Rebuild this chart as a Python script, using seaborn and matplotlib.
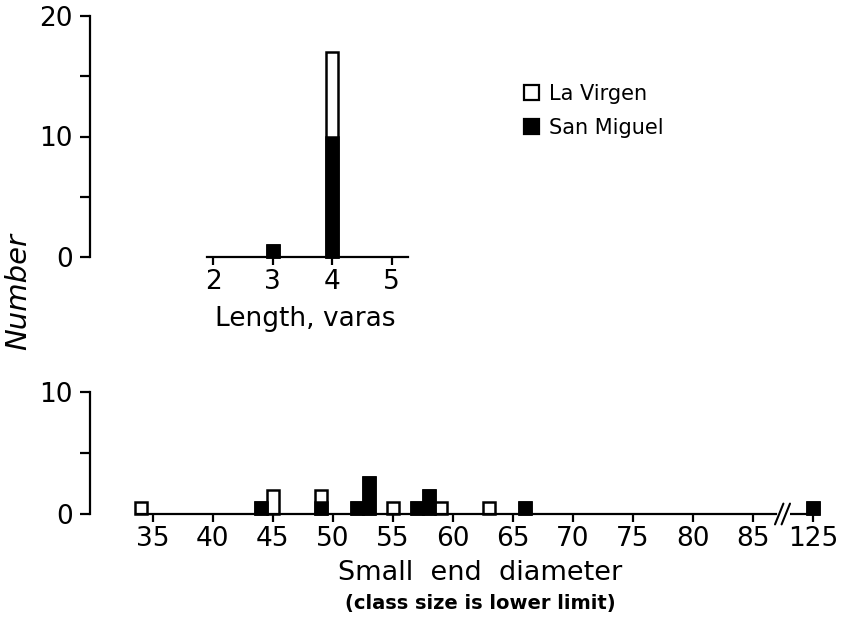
import matplotlib
matplotlib.use("Agg")
import matplotlib.pyplot as plt
import seaborn as sns
import numpy as np
import pandas as pd
from matplotlib.patches import Patch
from matplotlib.ticker import FixedLocator

# ---------------- data ----------------
length_classes = [3, 4]
length_san_miguel = [1, 10]
length_la_virgen = [0, 7]
length_ticks = [2, 3, 4, 5]

diam_classes = [34, 44, 45, 49, 52, 53, 55, 57, 58, 59, 63, 66, 125]
diam_san_miguel = [0, 1, 0, 1, 1, 3, 0, 1, 2, 0, 0, 1, 1]
diam_la_virgen = [1, 0, 2, 1, 0, 0, 1, 0, 0, 1, 1, 0, 0]
diam_ticks = [35, 40, 45, 50, 55, 60, 65, 70, 75, 80, 85, 125]

series_names = ["La Virgen", "San Miguel"]


def axis_pos(v):
    # broken axis: values beyond 85 are drawn one class step after 85
    return v - 35 if v > 85 else v


# ---------------- style ----------------
sns.set_style("white")
plt.rcParams["font.family"] = ["DejaVu Sans"]
plt.rcParams.update({
    "axes.linewidth": 1.6,
    "axes.edgecolor": "black",
    "text.color": "black",
    "axes.labelcolor": "black",
    "xtick.color": "black",
    "ytick.color": "black",
})

W, H, DPI = 853, 620, 100
fig = plt.figure(figsize=(W / DPI, H / DPI), dpi=DPI)


def px_axes(left, top, right, bottom):
    return fig.add_axes([left / W, 1 - bottom / H, (right - left) / W, (bottom - top) / H])


ax_top = px_axes(206.7, 15.7, 408.3, 257.3)
ax_bot = px_axes(136, 391.7, 820, 514)


def stacked(ax, x, sm, lv, width):
    df = pd.DataFrame({"x": x, "sm": sm, "lv": lv})
    df["total"] = df["sm"] + df["lv"]
    tot = df[df["total"] > 0]
    sns.barplot(data=tot, x="x", y="total", native_scale=True, width=width,
                color="white", edgecolor="black", linewidth=1.8, saturation=1,
                errorbar=None, ax=ax)
    blk = df[df["sm"] > 0]
    sns.barplot(data=blk, x="x", y="sm", native_scale=True, width=width,
                color="black", edgecolor="black", linewidth=1.8, saturation=1,
                errorbar=None, ax=ax)
    for p in ax.patches:
        p.set_clip_on(False)


# ---------------- top panel: length ----------------
stacked(ax_top, length_classes, length_san_miguel, length_la_virgen, 0.2)
ax_top.set_xlim(1.89, 5.28)
ax_top.set_ylim(0, 20)
for s in ["top", "right"]:
    ax_top.spines[s].set_visible(False)
ax_top.spines["left"].set_position(("outward", (206.7 - 90) * 72 / DPI))
ax_top.set_xticks(length_ticks)
ax_top.set_xticklabels([str(t) for t in length_ticks])
ax_top.set_yticks([0, 10, 20])
ax_top.set_yticklabels(["0", "10", "20"])
ax_top.yaxis.set_minor_locator(FixedLocator([5, 15]))
ax_top.set_xlabel("Length, varas", fontsize=19)
ax_top.xaxis.set_label_coords((305 - 206.7) / 201.7, (257.3 - 306) / 241.6)
ax_top.set_ylabel("")

# ---------------- bottom panel: diameter ----------------
pos_classes = [axis_pos(v) for v in diam_classes]
stacked(ax_bot, pos_classes, diam_san_miguel, diam_la_virgen, 0.95)
ax_bot.set_xlim(33.6, 90.6)
ax_bot.set_ylim(0, 10)
for s in ["top", "right"]:
    ax_bot.spines[s].set_visible(False)
ax_bot.spines["left"].set_position(("outward", (136 - 90) * 72 / DPI))
ax_bot.spines["bottom"].set_bounds(33.6, 86.95)
ax_bot.plot([88.1, 90.6], [0, 0], color="black", lw=1.6, clip_on=False,
            solid_capstyle="butt")
for bx in (87.2, 87.75):
    ax_bot.plot([bx - 0.35, bx + 0.35], [-0.85, 0.85], color="black", lw=1.5,
                clip_on=False)
ax_bot.set_xticks([axis_pos(t) for t in diam_ticks])
ax_bot.set_xticklabels([str(t) for t in diam_ticks])
ax_bot.set_yticks([0, 10])
ax_bot.set_yticklabels(["0", "10"])
ax_bot.yaxis.set_minor_locator(FixedLocator([5]))
ax_bot.set_xlabel("Small  end  diameter", fontsize=19.5)
ax_bot.xaxis.set_label_coords((480 - 136) / 684, (514 - 560) / 122.3)
ax_bot.set_ylabel("")

for ax in (ax_top, ax_bot):
    ax.tick_params(axis="both", which="both", direction="out", width=1.6,
                   labelsize=19, color="black", labelcolor="black")
    ax.tick_params(axis="y", which="both", length=7.5, left=True, pad=5)
    ax.tick_params(axis="x", which="major", length=5.5, bottom=True, pad=3)
    ax.grid(False)

fig.text(480 / W, 1 - 603 / H, "(class size is lower limit)", ha="center",
         va="center", fontsize=14, fontweight="bold")
fig.text(18 / W, 1 - 291 / H, "Number", ha="center", va="center", rotation=90,
         fontsize=21, style="italic")

handles = [Patch(facecolor="white", edgecolor="black", linewidth=1.6),
           Patch(facecolor="black", edgecolor="black", linewidth=1.6)]
fig.legend(handles, series_names, loc="upper left",
           bbox_to_anchor=(524 / W, 1 - 84 / H), frameon=False, fontsize=15,
           handlelength=0.7, handleheight=0.7, handletextpad=0.5,
           labelspacing=0.65, borderpad=0, borderaxespad=0)

fig.savefig("out.png", dpi=DPI)
